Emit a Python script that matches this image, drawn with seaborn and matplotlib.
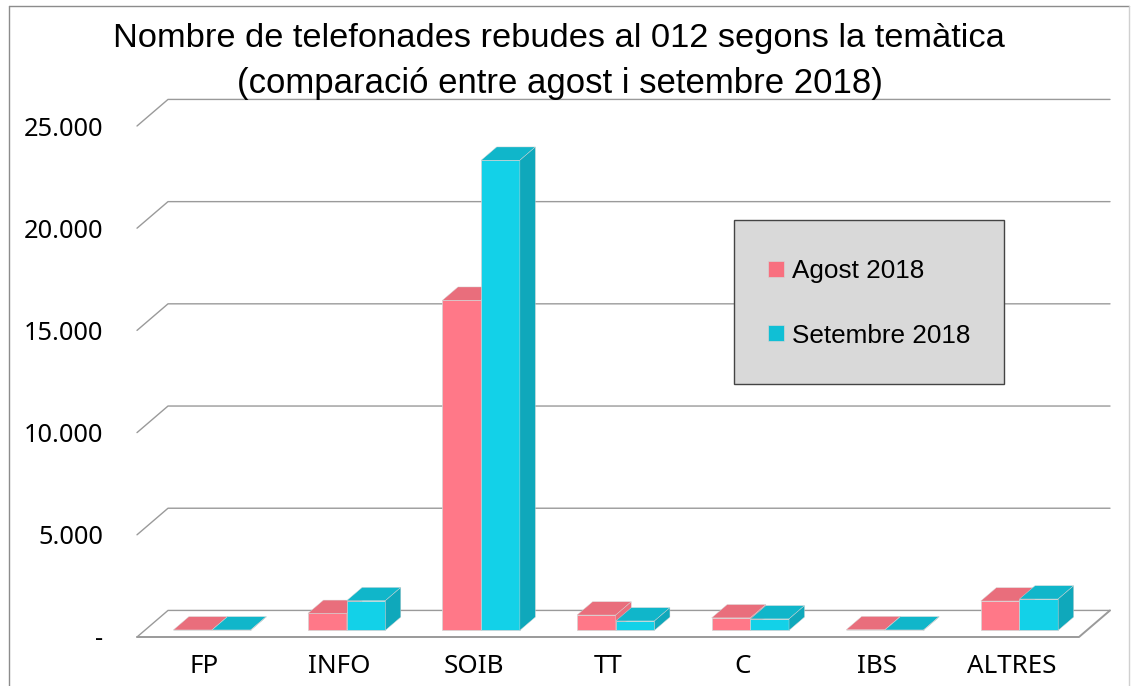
import pandas as pd
import matplotlib
matplotlib.use('Agg')
import matplotlib.pyplot as plt
import seaborn as sns
from matplotlib.patches import Rectangle
from matplotlib.lines import Line2D

# values
categories = ['FP', 'INFO', 'SOIB', 'TT', 'C', 'IBS', 'ALTRES']
agost = [20, 830, 16150, 750, 610, 30, 1436]
setembre = [20, 1450, 23000, 460, 560, 20, 1534]
series_names = ['Agost 2018', 'Setembre 2018']
y_ticks = [0, 5000, 10000, 15000, 20000, 25000]
y_labels = ['-', '5.000', '10.000', '15.000', '20.000', '25.000']

front_colors = ['#FF7888', '#13D1E8']
top_colors = ['#E96E7C', '#10B6CA']
side_colors = ['#E96E7C', '#0FA8BB']
legend_colors = ['#F8707F', '#10BFD5']
edge_color = '#D4D4D4'
grid_color = '#9A9A9A'

# fake 3d depth of the chart box, in data units
depth_x = 0.2304
depth_y = 1300

df = pd.DataFrame({
    'categoria': categories * 2,
    'valor': agost + setembre,
    'serie': [series_names[0]] * len(categories) + [series_names[1]] * len(categories),
})

sns.set_theme(style='white')
plt.rcParams['font.family'] = ['Noto Sans', 'DejaVu Sans']
plt.rcParams['text.color'] = 'black'

W, H = 1138, 686
fig = plt.figure(figsize=(W / 100, H / 100), dpi=100)
ax = fig.add_axes([137 / W, (H - 637) / H, 942 / W, 511 / H])

sns.barplot(data=df, x='categoria', y='valor', hue='serie', order=categories,
            hue_order=series_names, palette=front_colors, width=0.575, gap=0,
            saturation=1, legend=False, ax=ax)

ax.set_xlim(-0.5, len(categories) - 0.5)
ax.set_ylim(0, 25000)
xmin, xmax = ax.get_xlim()

# grid: diagonal on the left wall, then along the back wall
for v in y_ticks:
    ax.plot([xmin, xmin + depth_x, xmax + depth_x], [v, v + depth_y, v + depth_y],
            color=grid_color, lw=1.0, zorder=1, clip_on=False)

# floor
ax.plot([xmin, xmax, xmax + depth_x], [0, 0, depth_y], color=grid_color, lw=1.4,
        zorder=1, clip_on=False)

# move the bars into the box and add top and side faces
for i, container in enumerate(ax.containers):
    for bar in container:
        x0 = bar.get_x() + depth_x / 4
        w = bar.get_width()
        h = bar.get_height()
        y0 = depth_y / 4
        dx = depth_x / 2
        dy = depth_y / 2
        bar.set_x(x0)
        bar.set_y(y0)
        bar.set_edgecolor(edge_color)
        bar.set_linewidth(0.5)
        bar.set_zorder(3 + i)
        bar.set_clip_on(False)
        ax.fill([x0, x0 + w, x0 + w + dx, x0 + dx],
                [y0 + h, y0 + h, y0 + h + dy, y0 + h + dy],
                facecolor=top_colors[i], edgecolor=edge_color, lw=0.3,
                zorder=3 + i, clip_on=False)
        ax.fill([x0 + w, x0 + w + dx, x0 + w + dx, x0 + w],
                [y0, y0 + dy, y0 + h + dy, y0 + h],
                facecolor=side_colors[i], edgecolor=edge_color, lw=0.3,
                zorder=3 + i, clip_on=False)

ax.set_xlabel('')
ax.set_ylabel('')
ax.set_yticks(y_ticks)
ax.set_yticklabels(y_labels)
ax.tick_params(axis='y', length=0, pad=24.5, labelsize=18.3, labelcolor='black')
ax.tick_params(axis='x', length=0, pad=12.5, labelsize=18.7, labelcolor='black')
sns.despine(ax=ax, top=True, right=True, left=True, bottom=True)
ax.patch.set_visible(False)

# legend box, drawn apart so its size does not depend on the entries
ax.add_patch(Rectangle((734 / W, 1 - 384 / H), 270 / W, 164 / H, transform=fig.transFigure,
                       facecolor='#D9D9D9', edgecolor='#444444', lw=1.0, zorder=9,
                       clip_on=False))
handles = [Line2D([], [], ls='', marker='s', ms=11.5, mfc=c, mec=edge_color, mew=0.5)
           for c in legend_colors]
leg = ax.legend(handles, series_names, loc='upper left',
                bbox_to_anchor=(767 / W, 1 - 259 / H), bbox_transform=fig.transFigure,
                borderaxespad=0, borderpad=0, labelspacing=1.55, handlelength=0.7,
                handletextpad=0.27, frameon=False,
                prop={'family': 'Liberation Sans', 'size': 18.85})
leg.set_zorder(10)

# title
fig.text(559 / W, 1 - 39 / H, 'Nombre de telefonades rebudes al 012 segons la temàtica',
         ha='center', va='center', fontsize=24.78, family='Liberation Sans', color='black')
fig.text(559.5 / W, 1 - 83 / H, '(comparació entre agost i setembre 2018)',
         ha='center', va='center', fontsize=25.0, family='Liberation Sans', color='black')

# outer chart border, the bottom runs off the image
fig.add_artist(Line2D([8.5 / W, 8.5 / W], [0, 1 - 5.5 / H], color='#8C8C8C', lw=1.0))
fig.add_artist(Line2D([8.5 / W, 1129 / W], [1 - 5.5 / H, 1 - 5.5 / H], color='#8C8C8C', lw=1.0))
fig.add_artist(Line2D([1129 / W, 1129 / W], [0, 1 - 5.5 / H], color='#D0D0D0', lw=1.0))

fig.savefig('out.png', dpi=100)
